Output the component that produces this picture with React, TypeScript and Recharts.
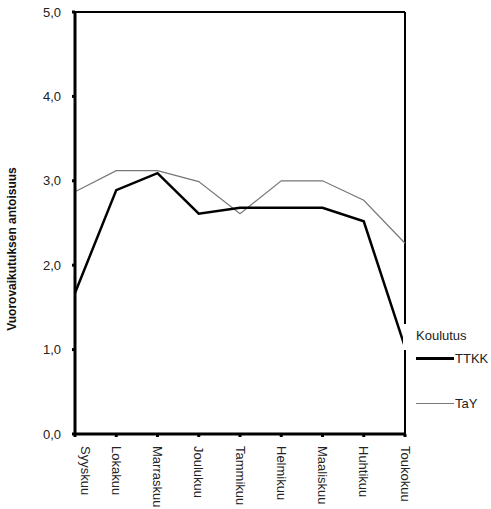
import { LineChart, Line, XAxis, YAxis, ReferenceLine } from "recharts";

const months = [
  "Syyskuu", "Lokakuu", "Marraskuu", "Joulukuu", "Tammikuu",
  "Helmikuu", "Maaliskuu", "Huhtikuu", "Toukokuu",
];
const ttkk = [1.67, 2.89, 3.09, 2.61, 2.68, 2.68, 2.68, 2.52, 1.03];
const tay = [2.87, 3.12, 3.12, 2.99, 2.61, 3.0, 3.0, 2.77, 2.26];
const yTicks = [0, 1, 2, 3, 4, 5];

const data = months.map((m, i) => ({ month: m, TTKK: ttkk[i], TaY: tay[i] }));

const FONT = "Liberation Sans, Arial, sans-serif";

function MonthTick(props: any) {
  const { x, y, payload, index } = props;
  const shift = index === 0 ? 10 : 0;
  return (
    <text
      transform={`translate(${x + shift},${y}) rotate(90)`}
      x={0}
      y={0}
      dominantBaseline="central"
      textAnchor="start"
      fontSize={13}
      fontFamily={FONT}
      fill="#222"
    >
      {payload.value}
    </text>
  );
}

function KoulutusLegend() {
  return (
    <div
      style={{
        position: "absolute",
        left: 403,
        top: 324,
        width: 88,
        fontFamily: FONT,
        fontSize: 13,
        color: "#222",
      }}
    >
      <div style={{ background: "#fff", padding: "2px 0 4px 13px", width: 70, lineHeight: "20px" }}>
        Koulutus
      </div>
      <div style={{ display: "flex", alignItems: "center", marginLeft: 13, marginTop: 1 }}>
        <span style={{ width: 38, borderTop: "3px solid #000", marginRight: 1 }} />
        <span>TTKK</span>
      </div>
      <div style={{ display: "flex", alignItems: "center", marginLeft: 13, marginTop: 30 }}>
        <span style={{ width: 38, borderTop: "1px solid #777", marginRight: 1 }} />
        <span>TaY</span>
      </div>
    </div>
  );
}

export default function App() {
  return (
    <div style={{ position: "absolute", left: 0, top: 0, width: 491, height: 509, background: "#fff" }}>
      <LineChart
        width={491}
        height={509}
        data={data}
        margin={{ top: 12, right: 86, left: 0, bottom: 0 }}
      >
        <XAxis
          dataKey="month"
          height={75}
          interval={0}
          padding={{ left: 0, right: 0 }}
          axisLine={{ stroke: "#000", strokeWidth: 3 }}
          tickLine={{ stroke: "#000", strokeWidth: 3 }}
          tickSize={3}
          tickMargin={9}
          tick={<MonthTick />}
        />
        <YAxis
          domain={[0, 5]}
          ticks={yTicks}
          width={75}
          axisLine={{ stroke: "#000", strokeWidth: 3 }}
          tickLine={{ stroke: "#000", strokeWidth: 3 }}
          tickSize={3}
          tickMargin={11}
          tickFormatter={(v: number) => v.toFixed(1).replace(".", ",")}
          tick={{ fontSize: 13, fontFamily: FONT, fill: "#222" }}
          label={{
            value: "Vuorovaikutuksen antoisuus",
            angle: -90,
            position: "insideLeft",
            offset: 0,
            dx: 12,
            dy: 26,
            style: { fontSize: 12, fontWeight: "bold", fontFamily: FONT, fill: "#111", textAnchor: "middle" },
          }}
        />
        <ReferenceLine y={5} stroke="#000" strokeWidth={2} />
        <ReferenceLine x="Toukokuu" stroke="#000" strokeWidth={2} />
        <Line
          dataKey="TaY"
          type="linear"
          stroke="#777"
          strokeWidth={1.2}
          dot={false}
          isAnimationActive={false}
        />
        <Line
          dataKey="TTKK"
          type="linear"
          stroke="#000"
          strokeWidth={2.5}
          dot={false}
          isAnimationActive={false}
        />
      </LineChart>
      <KoulutusLegend />
    </div>
  );
}
